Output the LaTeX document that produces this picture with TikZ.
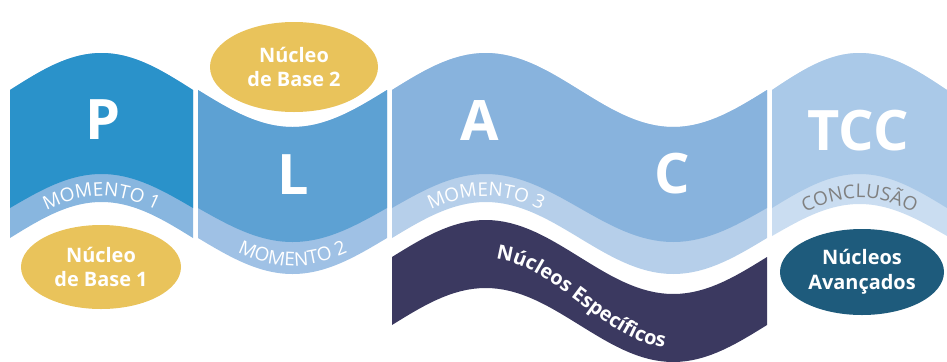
\documentclass[tikz,border=0pt]{standalone}
\usepackage{fontspec}
\setmainfont{Open Sans}
\usetikzlibrary{decorations.text,shapes.geometric}
\definecolor{pA}{HTML}{2A92CA}
\definecolor{bA}{HTML}{88B6DF}
\definecolor{pB}{HTML}{5DA1D3}
\definecolor{bB}{HTML}{9FC1E5}
\definecolor{pC}{HTML}{88B3DD}
\definecolor{bC}{HTML}{B6CFEA}
\definecolor{pD}{HTML}{AAC9E8}
\definecolor{bD}{HTML}{CADDF1}
\definecolor{navy}{HTML}{3B3960}
\definecolor{gold}{HTML}{E9C35B}
\definecolor{teal}{HTML}{1E5B7C}
\definecolor{grayt}{HTML}{808080}
% #1 colour, #2 x0, #3 x1, #4 phase0, #5 phase1, #6 mid top, #7 amp top, #8 mid bottom, #9 amp bottom
\newcommand\wfill[9]{\fill[#1] plot[domain=#2:#3,samples=61] (\x,{#6-#7*sin(#4+(\x-#2)/(#3-#2)*(#5-#4))}) -- plot[domain=#3:#2,samples=61] (\x,{#8-#9*sin(#4+(\x-#2)/(#3-#2)*(#5-#4))}) -- cycle;}
% #1 text spec, #2 x0, #3 x1, #4 full x0, #5 full x1, #6 phase0, #7 phase1, #8 mid, #9 amp
\newcommand\wtext[9]{\path[decorate,decoration={text along path,text align=center,text={#1}}] plot[domain=#2:#3,samples=61] (\x,{#8-#9*sin(#6+(\x-#4)/(#5-#4)*(#7-#6))});}
\begin{document}
\begin{tikzpicture}[x=1bp,y=-1bp,
  bigletter/.style={text=white,inner sep=0,font=\fontsize{56}{56}\selectfont\bfseries},
  blob/.style={ellipse,inner sep=0,align=center,text=white,font=\fontsize{20}{25}\selectfont\bfseries}]
\useasboundingbox (0,0) rectangle (947,361);
% panel 1
\wfill{bA}{10}{193}{0}{180}{90}{37}{238}{36}
\wfill{pA}{10}{193}{0}{180}{90}{37}{208}{34}
% panel 2
\wfill{bB}{198}{387}{180}{360}{90}{37}{238}{36}
\wfill{pB}{198}{387}{180}{360}{90}{37}{208}{34}
% panel 3
\wfill{bC}{392}{767}{0}{360}{90}{37}{238}{36}
\wfill{pC}{392}{767}{0}{360}{90}{37}{208}{34}
\wfill{navy}{392}{767}{0}{360}{257}{37}{325}{37}
% panel 4
\wfill{bD}{772}{947}{0}{180}{90}{37}{236}{32}
\wfill{pD}{772}{947}{0}{180}{90}{37}{208}{34}
% curved labels
\wtext{|\fontsize{19}{19}\selectfont\color{white}|MOMENTO 1}{10}{193}{10}{193}{0}{180}{231}{35}
\wtext{|\fontsize{19}{19}\selectfont\color{white}|MOMENTO 2}{198}{387}{198}{387}{180}{360}{231}{35}
\wtext{|\fontsize{19}{19}\selectfont\color{white}|MOMENTO 3}{392}{580}{392}{767}{0}{360}{231}{35}
\wtext{|\fontsize{19}{19}\selectfont\color{grayt}|CONCLUSÃO}{772}{947}{772}{947}{0}{180}{231}{33}
\wtext{|\fontsize{20}{20}\selectfont\bfseries\color{white}|Núcleos Específicos}{430}{730}{392}{767}{0}{360}{303}{45}
% big letters
\node[bigletter] (P) at (103,120) {P};
\node[bigletter] (L) at (293,175) {L};
\node[bigletter] (A) at (480,120) {A};
\node[bigletter] (C) at (672,174) {C};
\node[bigletter] (T) at (858,131) {TCC};
% ellipses
\node[blob,fill=gold,minimum width=160bp,minimum height=84bp] (nb1) at (101,267) {Núcleo\\de Base 1};
\node[blob,fill=gold,minimum width=168bp,minimum height=90bp] (nb2) at (294,67) {Núcleo\\de Base 2};
\node[blob,fill=teal,minimum width=164bp,minimum height=86bp] (na) at (862,272) {Núcleos\\Avançados};
\end{tikzpicture}
\end{document}
